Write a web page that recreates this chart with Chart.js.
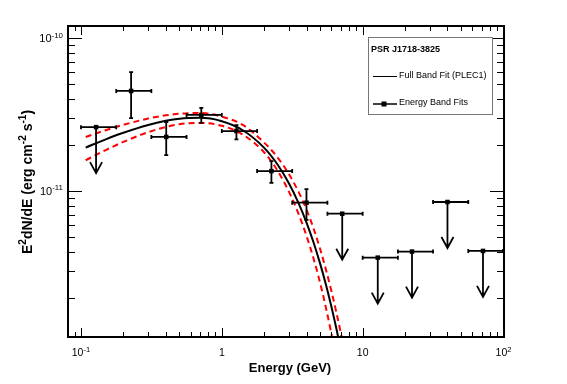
<!DOCTYPE html>
<html>
<head>
<meta charset="utf-8">
<script src="https://cdn.jsdelivr.net/npm/chart.js@4.4.1/dist/chart.umd.min.js"></script>
<style>
  html, body { margin: 0; padding: 0; background: #fff; }
  #wrap { width: 567px; height: 384px; position: relative; }
</style>
</head>
<body>
<div id="wrap"><canvas id="sed"></canvas></div>
<script>
// energy band fits: E (GeV), bin edges, E^2 dN/dE (erg cm^-2 s^-1)
const bandE    = [0.128, 0.227, 0.403, 0.715, 1.27, 2.25, 3.99, 7.16, 12.8, 22.4, 40.0, 71.5];
const bandELo  = [0.1, 0.178, 0.316, 0.562, 1.0, 1.78, 3.16, 5.62, 10.0, 17.8, 31.6, 56.2];
const bandEHi  = [0.178, 0.316, 0.562, 1.0, 1.78, 3.16, 5.62, 10.0, 17.8, 31.6, 56.2, 100];
const bandFlux = [2.62e-11, 4.52e-11, 2.26e-11, 3.15e-11, 2.47e-11, 1.35e-11, 8.38e-12, 7.10e-12, 3.66e-12, 4.01e-12, 8.47e-12, 4.05e-12];
const fluxLo   = [null, 3.0e-11, 1.72e-11, 2.79e-11, 2.18e-11, 1.13e-11, 6.46e-12, null, null, null, null, null];
const fluxHi   = [null, 6.0e-11, 2.83e-11, 3.50e-11, 2.70e-11, 1.57e-11, 1.03e-11, null, null, null, null, null];
const isUL     = [true, false, false, false, false, false, false, true, true, true, true, true];

// full band fit (PLEC1) and its error band
const curveE  = [0.108, 0.15, 0.2, 0.3, 0.4, 0.5, 0.7, 1.0, 1.4, 2.0, 2.5, 3.0, 3.5, 4.0, 4.5, 5.0, 5.5, 6.0, 6.5, 7.0, 7.5];
const fitFlux = [1.925e-11, 2.180e-11, 2.406e-11, 2.706e-11, 2.880e-11, 2.975e-11, 3.013e-11, 2.864e-11, 2.508e-11, 1.916e-11, 1.480e-11, 1.120e-11, 8.37e-12, 6.19e-12, 4.55e-12, 3.32e-12, 2.415e-12, 1.748e-12, 1.262e-12, 9.08e-13, 6.52e-13];
const bandHi  = [2.257e-11, 2.502e-11, 2.712e-11, 2.981e-11, 3.129e-11, 3.209e-11, 3.243e-11, 3.069e-11, 2.718e-11, 2.073e-11, 1.649e-11, 1.286e-11, 9.90e-12, 7.53e-12, 5.62e-12, 4.14e-12, 3.03e-12, 2.21e-12, 1.61e-12, 1.17e-12, 8.49e-13];
const bandLo  = [1.590e-11, 1.855e-11, 2.096e-11, 2.428e-11, 2.627e-11, 2.739e-11, 2.793e-11, 2.673e-11, 2.351e-11, 1.788e-11, 1.349e-11, 9.87e-12, 7.11e-12, 5.06e-12, 3.56e-12, 2.48e-12, 1.70e-12, 1.16e-12, 7.88e-13, 5.35e-13, 3.55e-13];

// axis ticks
const xMajor = [0.1, 1, 10, 100];
const xLabels = [['10', '-1'], ['1', ''], ['10', ''], ['10', '2']];
const yMajor = [1e-10, 1e-11];
const yLabels = [['10', '-10'], ['10', '-11']];

const FONT = "'Liberation Sans', Arial, Helvetica, sans-serif";

function pts(xs, ys){
    return xs.map((e, i) => ({x: e, y: ys[i]}));
}

// draws text made of [string, isSuperscript] parts
function richText(ctx, parts, x, y, size, weight, align){
    const sub = size * 0.72;
    let w = 0;
    parts.forEach(p => {
        ctx.font = weight + ' ' + (p[1] ? sub : size) + 'px ' + FONT;
        w += ctx.measureText(p[0]).width;
    });
    let cx = align === 'right' ? x - w : align === 'center' ? x - w / 2 : x;
    ctx.textAlign = 'left';
    ctx.textBaseline = 'alphabetic';
    parts.forEach(p => {
        ctx.font = weight + ' ' + (p[1] ? sub : size) + 'px ' + FONT;
        ctx.fillText(p[0], cx, p[1] ? y - size * 0.42 : y);
        cx += ctx.measureText(p[0]).width;
    });
}

const errorBars = {
    id: 'errorBars',
    afterDatasetsDraw(chart){
        const {ctx, chartArea, scales: {x, y}} = chart;
        ctx.save();
        ctx.strokeStyle = '#000';
        ctx.lineWidth = 1.8;
        bandE.forEach((e, i) => {
            const px = x.getPixelForValue(e);
            const py = y.getPixelForValue(bandFlux[i]);
            const x0 = x.getPixelForValue(bandELo[i]);
            const x1 = Math.min(x.getPixelForValue(bandEHi[i]), chartArea.right - 1);
            ctx.beginPath();
            ctx.moveTo(x0, py); ctx.lineTo(x1, py);
            ctx.moveTo(x0, py - 2); ctx.lineTo(x0, py + 2);
            ctx.moveTo(x1, py - 2); ctx.lineTo(x1, py + 2);
            if (isUL[i]) {
                const tip = py + 46;
                ctx.moveTo(px, py); ctx.lineTo(px, tip);
                ctx.moveTo(px - 6, tip - 11); ctx.lineTo(px, tip); ctx.lineTo(px + 6, tip - 11);
            } else {
                const y0 = y.getPixelForValue(fluxHi[i]);
                const y1 = y.getPixelForValue(fluxLo[i]);
                ctx.moveTo(px, y0); ctx.lineTo(px, y1);
                ctx.moveTo(px - 2, y0); ctx.lineTo(px + 2, y0);
                ctx.moveTo(px - 2, y1); ctx.lineTo(px + 2, y1);
            }
            ctx.stroke();
        });
        ctx.restore();
    }
};

const frame = {
    id: 'frame',
    afterDraw(chart){
        const {ctx, chartArea: a, scales: {x, y}} = chart;
        ctx.save();
        ctx.strokeStyle = '#000';
        ctx.lineWidth = 2;
        ctx.strokeRect(a.left, a.top, a.right - a.left, a.bottom - a.top);

        // inward ticks
        ctx.lineWidth = 1;
        ctx.beginPath();
        for (let d = 0.01; d <= 100; d *= 10) {
            for (let m = 1; m < 10; m++) {
                const v = d * m;
                if (v < x.min || v > x.max) continue;
                const p = Math.round(x.getPixelForValue(v)) + 0.5;
                const len = m === 1 ? 9 : 5;
                ctx.moveTo(p, a.bottom); ctx.lineTo(p, a.bottom - len);
                ctx.moveTo(p, a.top); ctx.lineTo(p, a.top + len);
            }
        }
        for (let d = 1e-12; d <= 1e-10; d *= 10) {
            for (let m = 1; m < 10; m++) {
                const v = d * m;
                if (v < y.min || v > y.max) continue;
                const p = Math.round(y.getPixelForValue(v)) + 0.5;
                const len = m === 1 ? 14 : 7;
                ctx.moveTo(a.left, p); ctx.lineTo(a.left + len, p);
                ctx.moveTo(a.right, p); ctx.lineTo(a.right - len, p);
            }
        }
        ctx.stroke();

        // tick labels
        ctx.fillStyle = '#000';
        xMajor.forEach((v, i) => {
            const parts = [[xLabels[i][0], false]];
            if (xLabels[i][1]) parts.push([xLabels[i][1], true]);
            richText(ctx, parts, x.getPixelForValue(v), 356, 10.5, 'normal', 'center');
        });
        yMajor.forEach((v, i) => {
            richText(ctx, [[yLabels[i][0], false], [yLabels[i][1], true]], 63, y.getPixelForValue(v) + 4, 11, 'normal', 'right');
        });

        // axis titles
        richText(ctx, [['Energy (GeV)', false]], 290, 372, 13, 'bold', 'center');
        ctx.save();
        ctx.translate(32, 182);
        ctx.rotate(-Math.PI / 2);
        richText(ctx, [['E', false], ['2', true], ['dN/dE (erg cm', false], ['-2', true], [' s', false], ['-1', true], [')', false]], 0, 0, 14, 'bold', 'center');
        ctx.restore();

        // legend box
        ctx.fillStyle = '#fff';
        ctx.fillRect(368.5, 37.5, 124, 77);
        ctx.strokeStyle = '#777';
        ctx.lineWidth = 1;
        ctx.strokeRect(368.5, 37.5, 124, 77);
        ctx.fillStyle = '#000';
        ctx.font = 'bold 9px ' + FONT;
        ctx.textBaseline = 'middle';
        ctx.textAlign = 'left';
        ctx.fillText('PSR J1718-3825', 371, 50);
        ctx.font = '9px ' + FONT;
        ctx.fillText('Full Band Fit (PLEC1)', 399, 76);
        ctx.fillText('Energy Band Fits', 399, 103);
        ctx.strokeStyle = '#000';
        ctx.beginPath();
        ctx.moveTo(373, 76.5); ctx.lineTo(397, 76.5);
        ctx.stroke();
        ctx.lineWidth = 1.5;
        ctx.beginPath();
        ctx.moveTo(373, 104); ctx.lineTo(397, 104);
        ctx.stroke();
        ctx.fillRect(381.5, 101.5, 5, 5);
        ctx.restore();
    }
};

function load(){
    const ctx = document.getElementById('sed');
    new Chart(ctx, {
        type: 'scatter',
        data: {
            datasets: [
                {
                    data: pts(curveE, fitFlux),
                    showLine: true,
                    borderColor: '#000',
                    borderWidth: 2,
                    pointRadius: 0,
                    cubicInterpolationMode: 'monotone'
                },
                {
                    data: pts(curveE, bandHi),
                    showLine: true,
                    borderColor: '#ff0000',
                    borderWidth: 2,
                    borderDash: [6, 4],
                    pointRadius: 0,
                    cubicInterpolationMode: 'monotone'
                },
                {
                    data: pts(curveE, bandLo),
                    showLine: true,
                    borderColor: '#ff0000',
                    borderWidth: 2,
                    borderDash: [6, 4],
                    pointRadius: 0,
                    cubicInterpolationMode: 'monotone'
                },
                {
                    data: pts(bandE, bandFlux),
                    showLine: false,
                    pointStyle: 'rect',
                    pointRadius: 3.2,
                    backgroundColor: '#000',
                    borderColor: '#000',
                    borderWidth: 0
                }
            ]
        },
        options: {
            responsive: true,
            maintainAspectRatio: false,
            animation: false,
            events: [],
            layout: { padding: { left: 68, right: 63, top: 26, bottom: 47 } },
            scales: {
                x: { type: 'logarithmic', min: 0.0809, max: 100.8, display: false },
                y: { type: 'logarithmic', min: 1.106e-12, max: 1.204e-10, display: false }
            },
            plugins: { legend: { display: false }, tooltip: { enabled: false } }
        },
        plugins: [errorBars, frame]
    });
}

window.onload = (event) => {
    load();
};
</script>
</body>
</html>
